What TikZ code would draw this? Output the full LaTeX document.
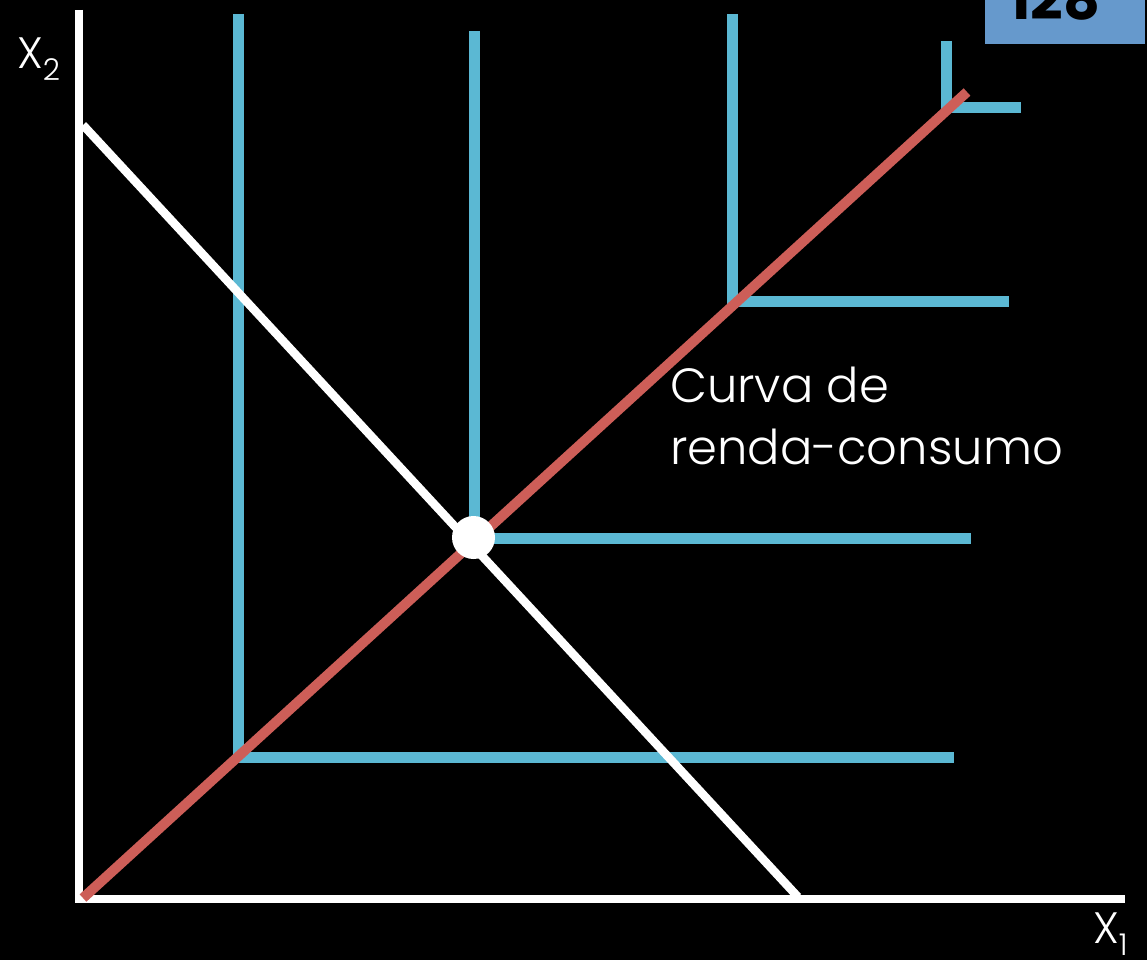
\documentclass[tikz,border=0pt]{standalone}
\usepackage{fontspec}
\setmainfont{Poppins}
\newfontfamily\lightfont{Poppins Light}
\definecolor{icblue}{RGB}{91,184,211}
\definecolor{iccred}{RGB}{205,94,88}
\definecolor{boxblue}{RGB}{102,153,204}
\tikzset{
  axis/.style={draw=white,line width=8.5pt},
  budget/.style={draw=white,line width=8.5pt},
  indiff/.style={draw=icblue,line width=11pt},
  icc/.style={draw=iccred,line width=10pt},
  lbl/.style={text=white,inner sep=0pt,font=\lightfont\fontsize{44}{50}\selectfont},
}
\newcommand{\mysub}[1]{\raisebox{-12pt}{\fontsize{30}{30}\selectfont #1}}
\begin{document}
\begin{tikzpicture}[x=1pt,y=-1pt]
\useasboundingbox (0,0) rectangle (1147,960);
\fill[black] (0,0) rectangle (1147,960);
\begin{scope}
\clip (0,0) rectangle (1147,960);
% page number box
\fill[boxblue] (985,-5) rectangle (1145,44);
\node[anchor=base,inner sep=0pt,font=\fontsize{57}{60}\selectfont\bfseries] (pg) at (1055,20) {128};
% axes
\coordinate (O) at (79,899);
\coordinate (ytop) at (79,10);
\coordinate (xend) at (1125,899);
\draw[axis] (ytop) -- (79,903);
\draw[axis] (75,899) -- (xend);
% indifference curves
\draw[indiff] (238,14) -- (238,757) -- (954,757);
\draw[indiff] (474,31) -- (474,538) -- (971,538);
\draw[indiff] (732,14) -- (732,301) -- (1009,301);
\draw[indiff] (946,41) -- (946,108) -- (1021,108);
% budget line
\coordinate (b1) at (83,125);
\coordinate (b2) at (798,897);
\draw[budget] (b1) -- (b2);
% income consumption curve
\coordinate (r1) at (83,898);
\coordinate (r2) at (967,92);
\draw[icc] (r1) -- (r2);
% optimum
\node[circle,fill=white,minimum size=43pt,inner sep=0pt] (opt) at (473.5,537.5) {};
% labels
\node[lbl,anchor=north west] (x2) at (17,38) {X\mysub{2}};
\node[lbl,anchor=north west] (x1) at (1093,913) {X\mysub{1}};
\node[lbl,anchor=north west,align=left,font=\lightfont\fontsize{48}{62}\selectfont] (curve) at (670,367) {Curva de\\renda-consumo};
\end{scope}
\end{tikzpicture}
\end{document}
